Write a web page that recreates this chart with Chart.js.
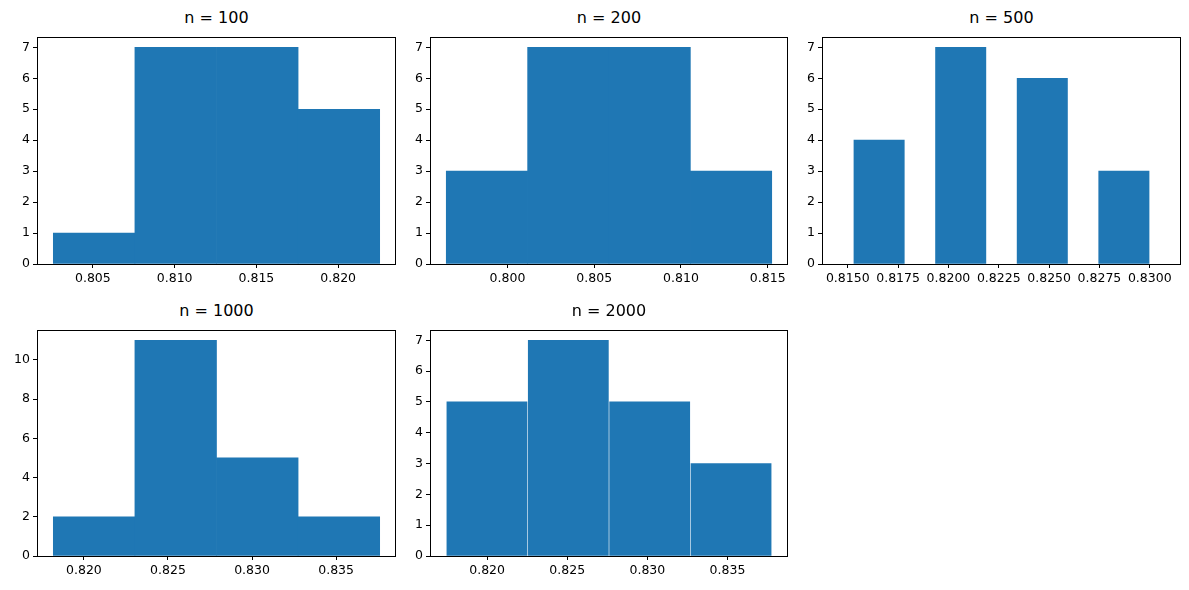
<!DOCTYPE html>
<html><head><meta charset="utf-8">
<script src="https://cdn.jsdelivr.net/npm/chart.js@4"></script>
<style>
body{margin:0;background:#fff;width:1189px;height:590px;position:relative;overflow:hidden;font-family:"DejaVu Sans",sans-serif}
.t{position:absolute;font-size:16px;color:#000;text-align:center}
</style></head><body>
<script>
const titles = ["n = 100","n = 200","n = 500","n = 1000","n = 2000"];
const binStarts = [0.80258, 0.79647, 0.81453, 0.81818, 0.81745];
const binEnds   = [0.82254, 0.81523, 0.83074, 0.83759, 0.83776];
const counts = [
  [1,7,7,5],
  [3,7,7,3],
  [4,7,6,3],
  [2,11,5,2],
  [5,7,5,3]
];
const yStep = [1,1,1,2,1];
const xStep = [0.005,0.005,0.0025,0.005,0.005];
const xDecimals = [3,3,4,3,3];

const boxes = [[37,32,396,264],[430,32,788,264],[822,32,1181,264],[37,325,396,556],[430,325,788,556]];
const frame = {id:'frame',afterDraw(c){const a=c.chartArea,x=c.ctx;x.save();x.strokeStyle='#000';x.lineWidth=1;x.strokeRect(Math.round(a.left)+0.5,Math.round(a.top)+0.5,Math.round(a.right-a.left)-1,Math.round(a.bottom-a.top)-1);x.restore();}};
boxes.forEach((b,i)=>{
  const [l,t,r,bt]=b, padL=45, padT=6, padB=30, padR=8;
  const t1=document.createElement('div');t1.className='t';t1.style.left=l+'px';t1.style.width=(r-l)+'px';t1.style.top=(t-24)+'px';t1.textContent=titles[i];document.body.appendChild(t1);
  const cv=document.createElement('canvas');
  const W=r-l+padL+padR,H=bt-t+padT+padB;
  const d=document.createElement('div');d.style.cssText=`position:absolute;left:${l-padL}px;top:${t-padT}px;width:${W}px;height:${H}px`;
  d.appendChild(cv);document.body.appendChild(d);
  const n=counts[i].length, w=(binEnds[i]-binStarts[i])/n;
  const data=counts[i].map((v,k)=>({x:binStarts[i]+w*(k+0.5),y:v}));
  const span=binEnds[i]-binStarts[i];
  const ymax=Math.max(...counts[i])*1.05;
  new Chart(cv,{type:'bar',data:{datasets:[{data,backgroundColor:'#1f77b4',borderWidth:0,barPercentage:1,categoryPercentage:1}]},
    options:{responsive:true,maintainAspectRatio:false,animation:false,devicePixelRatio:1,
      layout:{padding:{top:padT,right:padR,left:0,bottom:0}},
      plugins:{legend:{display:false},tooltip:{enabled:false}},
      scales:{
        x:{type:'linear',offset:false,min:binStarts[i]-span*0.05,max:binEnds[i]+span*0.05,
          afterFit(s){s.height=padB;},
          afterBuildTicks(s){const st=xStep[i];const a=[];for(let v=Math.ceil(s.min/st-1e-6)*st;v<=s.max+1e-9;v+=st)a.push({value:v});s.ticks=a;},
          ticks:{color:'#000',font:{size:12.5,family:'DejaVu Sans'},maxRotation:0,autoSkip:false,padding:3,callback:v=>v.toFixed(xDecimals[i])},
          grid:{display:true,offset:false,drawOnChartArea:false,drawTicks:true,tickLength:4,color:'#000'},border:{display:false}},
        y:{min:0,max:ymax,afterFit(s){s.width=padL;},
          afterBuildTicks(s){const a=[];for(let v=0;v<=s.max;v+=yStep[i])a.push({value:v});s.ticks=a;},
          ticks:{color:'#000',font:{size:12.5,family:'DejaVu Sans'},padding:3},
          grid:{display:true,drawOnChartArea:false,drawTicks:true,tickLength:4,color:'#000'},border:{display:false}}
      }},plugins:[frame]});
});
</script>
</body></html>
